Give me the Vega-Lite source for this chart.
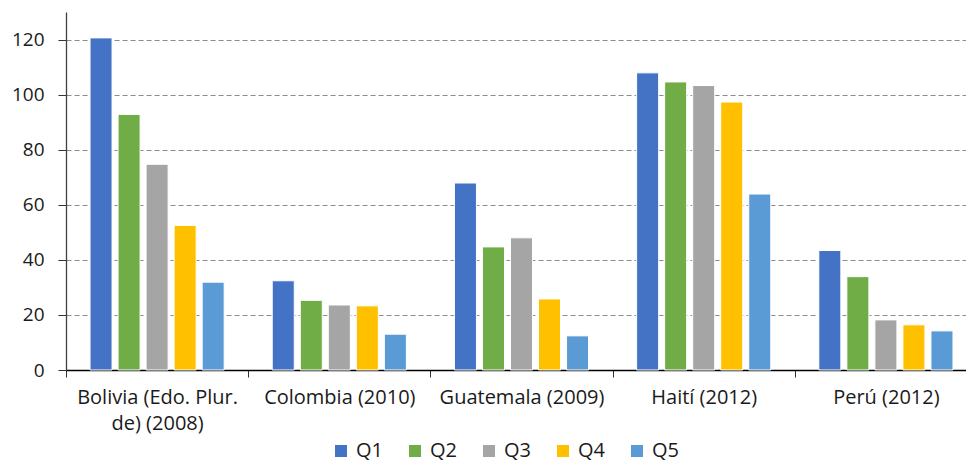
{
  "$schema": "https://vega.github.io/schema/vega-lite/v6.json",
  "autosize": "none",
  "width": 911,
  "height": 358,
  "padding": {"left": 66, "top": 12, "right": 0, "bottom": 92},
  "background": "white",
  "config": {
    "font": "Open Sans",
    "view": {"stroke": null}
  },
  "data": {
    "values": [
      {"pais": "Bolivia (Edo. Plur. de) (2008)", "quintil": "Q1", "valor": 120.6},
      {"pais": "Bolivia (Edo. Plur. de) (2008)", "quintil": "Q2", "valor": 92.8},
      {"pais": "Bolivia (Edo. Plur. de) (2008)", "quintil": "Q3", "valor": 74.7},
      {"pais": "Bolivia (Edo. Plur. de) (2008)", "quintil": "Q4", "valor": 52.5},
      {"pais": "Bolivia (Edo. Plur. de) (2008)", "quintil": "Q5", "valor": 31.9},
      {"pais": "Colombia (2010)", "quintil": "Q1", "valor": 32.4},
      {"pais": "Colombia (2010)", "quintil": "Q2", "valor": 25.3},
      {"pais": "Colombia (2010)", "quintil": "Q3", "valor": 23.6},
      {"pais": "Colombia (2010)", "quintil": "Q4", "valor": 23.3},
      {"pais": "Colombia (2010)", "quintil": "Q5", "valor": 13.0},
      {"pais": "Guatemala (2009)", "quintil": "Q1", "valor": 67.9},
      {"pais": "Guatemala (2009)", "quintil": "Q2", "valor": 44.7},
      {"pais": "Guatemala (2009)", "quintil": "Q3", "valor": 48.0},
      {"pais": "Guatemala (2009)", "quintil": "Q4", "valor": 25.8},
      {"pais": "Guatemala (2009)", "quintil": "Q5", "valor": 12.4},
      {"pais": "Haití (2012)", "quintil": "Q1", "valor": 107.9},
      {"pais": "Haití (2012)", "quintil": "Q2", "valor": 104.6},
      {"pais": "Haití (2012)", "quintil": "Q3", "valor": 103.3},
      {"pais": "Haití (2012)", "quintil": "Q4", "valor": 97.3},
      {"pais": "Haití (2012)", "quintil": "Q5", "valor": 63.9},
      {"pais": "Perú (2012)", "quintil": "Q1", "valor": 43.4},
      {"pais": "Perú (2012)", "quintil": "Q2", "valor": 33.9},
      {"pais": "Perú (2012)", "quintil": "Q3", "valor": 18.2},
      {"pais": "Perú (2012)", "quintil": "Q4", "valor": 16.4},
      {"pais": "Perú (2012)", "quintil": "Q5", "valor": 14.2}
    ]
  },
  "mark": {"type": "bar", "stroke": "white", "strokeWidth": 1},
  "encoding": {
    "x": {
      "field": "pais",
      "type": "nominal",
      "sort": null,
      "title": null,
      "scale": {"paddingInner": 0, "paddingOuter": 0},
      "axis": {
        "domainColor": "#000000",
        "domainWidth": 1.3,
        "tickBand": "extent",
        "tickColor": "#333333",
        "tickSize": 7,
        "labelAngle": 0,
        "labelFontSize": 20,
        "labelColor": "#1a1a1a",
        "labelPadding": 10,
        "labelLineHeight": 26,
        "labelLimit": 220,
        "grid": false,
        "labelExpr": "datum.label == 'Bolivia (Edo. Plur. de) (2008)' ? ['Bolivia (Edo. Plur.', 'de) (2008)'] : datum.label"
      }
    },
    "xOffset": {
      "field": "quintil",
      "type": "nominal",
      "scale": {"paddingInner": 0.214, "paddingOuter": 0.857}
    },
    "y": {
      "field": "valor",
      "type": "quantitative",
      "title": null,
      "scale": {"domain": [0, 130], "nice": false},
      "axis": {
        "values": [0, 20, 40, 60, 80, 100, 120],
        "domainColor": "#404040",
        "domainWidth": 1.3,
        "tickColor": "#333333",
        "tickSize": 8,
        "labelFontSize": 19,
        "labelColor": "#1a1a1a",
        "labelPadding": 14,
        "grid": true,
        "gridColor": "#8c8c8c",
        "gridDash": [5, 3],
        "gridWidth": 1
      }
    },
    "color": {
      "field": "quintil",
      "type": "nominal",
      "title": null,
      "scale": {
        "domain": ["Q1", "Q2", "Q3", "Q4", "Q5"],
        "range": ["#4472C4", "#70AD47", "#A5A5A5", "#FFC000", "#5B9BD5"]
      },
      "legend": {
        "orient": "none",
        "direction": "horizontal",
        "legendX": 265,
        "legendY": 429,
        "symbolType": "square",
        "symbolSize": 144,
        "symbolStrokeWidth": 0,
        "labelFontSize": 20,
        "labelColor": "#1a1a1a",
        "labelOffset": 5,
        "columnPadding": 22
      }
    }
  }
}
